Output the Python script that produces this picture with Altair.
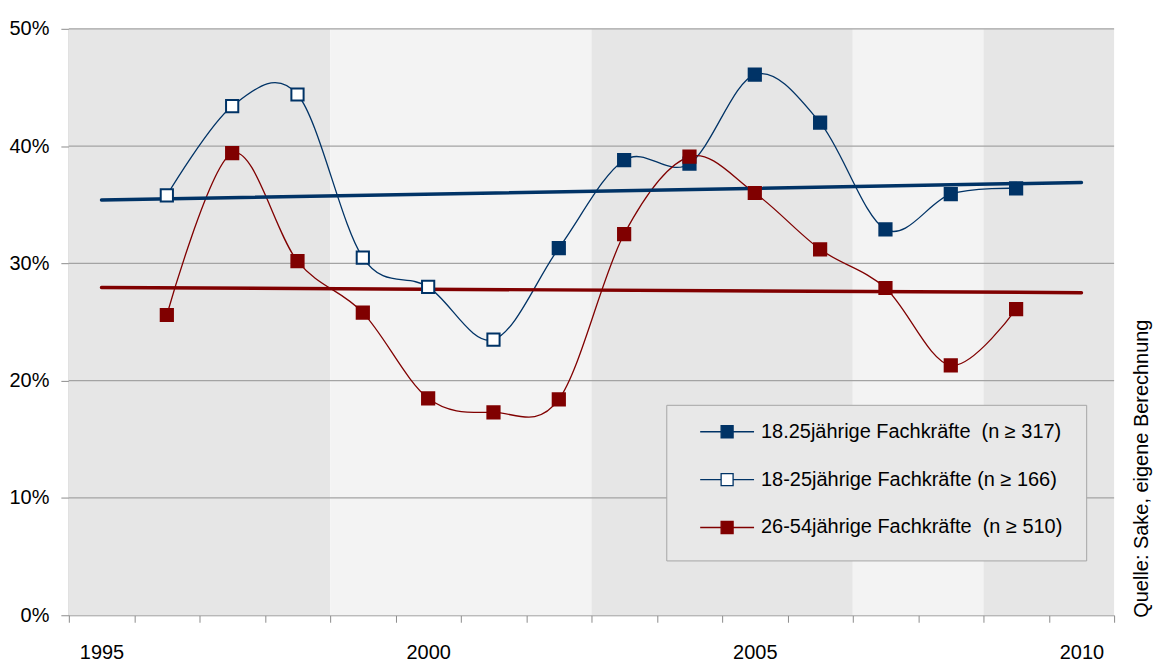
import altair as alt
import pandas as pd

# ---- data ----
years_open = [1996, 1997, 1998, 1999, 2000, 2001]
vals_open = [35.8, 43.4, 44.4, 30.5, 28.0, 23.5]          # 18-25jährige (n >= 166)

years_filled = [2002, 2003, 2004, 2005, 2006, 2007, 2008, 2009]
vals_filled = [31.3, 38.8, 38.5, 46.1, 42.0, 32.9, 35.9, 36.4]  # 18.25jährige (n >= 317)

years_red = [1996, 1997, 1998, 1999, 2000, 2001, 2002, 2003, 2004, 2005, 2006, 2007, 2008, 2009]
vals_red = [25.6, 39.4, 30.2, 25.8, 18.5, 17.3, 18.4, 32.5, 39.1, 36.0, 31.2, 27.9, 21.3, 26.1]

trend_years = [1995, 2010]
trend_navy = [35.4, 36.9]
trend_red = [27.95, 27.5]

band_start = [1994.5, 1998.5, 2002.5, 2006.5, 2008.5]
band_end = [1998.5, 2002.5, 2006.5, 2008.5, 2010.5]
band_shade = ["dark", "light", "dark", "light", "dark"]

grid_values = [0.1, 0.2, 0.3, 0.4, 0.5]
y_ticks = [0, 0.1, 0.2, 0.3, 0.4, 0.5]
x_ticks = [1994.5, 1995.5, 1996.5, 1997.5, 1998.5, 1999.5, 2000.5, 2001.5, 2002.5,
           2003.5, 2004.5, 2005.5, 2006.5, 2007.5, 2008.5, 2009.5, 2010.5]
x_labels = [1995, 2000, 2005, 2010]

series_names = [
    "18.25jährige Fachkräfte\u00a0 (n ≥ 317)",
    "18-25jährige Fachkräfte (n ≥ 166)",
    "26-54jährige Fachkräfte\u00a0 (n ≥ 510)",
]
source_text = "Quelle: Sake, eigene Berechnung"

NAVY = "#003366"
RED = "#800000"
FONT = "Liberation Sans"
FS = 20

W, H = 1048, 588

# ---- tables ----
navy_line = pd.DataFrame({
    "year": years_open + years_filled,
    "v": [v / 100 for v in vals_open + vals_filled],
})
red_line = pd.DataFrame({"year": years_red, "v": [v / 100 for v in vals_red]})
points = pd.concat([
    pd.DataFrame({"year": years_filled, "v": [v / 100 for v in vals_filled], "series": series_names[0]}),
    pd.DataFrame({"year": years_open, "v": [v / 100 for v in vals_open], "series": series_names[1]}),
    pd.DataFrame({"year": years_red, "v": [v / 100 for v in vals_red], "series": series_names[2]}),
])
trend_n = pd.DataFrame({"year": trend_years, "v": [v / 100 for v in trend_navy]})
trend_r = pd.DataFrame({"year": trend_years, "v": [v / 100 for v in trend_red]})
bands = pd.DataFrame({"x0": band_start, "x1": band_end, "shade": band_shade})
grid = pd.DataFrame({"g": grid_values})
labels_df = pd.DataFrame({"year": x_labels})

xscale = alt.Scale(domain=[1994.5, 2010.5], nice=False, zero=False)
yscale = alt.Scale(domain=[0, 0.5], nice=False)

x_tick_axis = alt.Axis(
    orient="bottom", values=x_ticks, title=None, grid=False, labels=False,
    domainColor="#8c8c8c", tickColor="#8c8c8c", tickSize=7, domainWidth=1.2,
)
x_label_axis = alt.Axis(
    orient="bottom", values=x_labels, title=None, grid=False, ticks=False, tickSize=0,
    domain=False, format="d", labelFont=FONT, labelFontSize=FS, labelColor="#000",
    labelPadding=27, labelOverlap=False, labelFlush=False,
)
y_axis = alt.Axis(
    values=y_ticks, title=None, grid=False, format=".0%",
    domainColor="#8c8c8c", tickColor="#8c8c8c", tickSize=8, domainWidth=1.2,
    labelFont=FONT, labelFontSize=FS, labelColor="#000", labelPadding=12,
)

band_layer = alt.Chart(bands).mark_rect().encode(
    x=alt.X("x0:Q", scale=xscale, axis=x_tick_axis),
    x2="x1:Q",
    y=alt.value(0), y2=alt.value(H),
    color=alt.Color("shade:N", scale=alt.Scale(domain=["dark", "light"], range=["#e6e6e6", "#f3f3f3"]), legend=None),
)

label_layer = alt.Chart(labels_df).mark_point(opacity=0).encode(
    x=alt.X("year:Q", scale=xscale, axis=x_label_axis),
    y=alt.value(H),
)

grid_layer = alt.Chart(grid).mark_rule(color="#a3a3a3", strokeWidth=1.2).encode(
    y=alt.Y("g:Q", scale=yscale, axis=y_axis),
)

navy_layer = alt.Chart(navy_line).mark_line(color=NAVY, strokeWidth=1.3, interpolate="cardinal").encode(
    x=alt.X("year:Q", scale=xscale, axis=None), y=alt.Y("v:Q", scale=yscale),
)
red_layer = alt.Chart(red_line).mark_line(color=RED, strokeWidth=1.3, interpolate="cardinal").encode(
    x=alt.X("year:Q", scale=xscale, axis=None), y=alt.Y("v:Q", scale=yscale),
)
trend_n_layer = alt.Chart(trend_n).mark_line(color=NAVY, strokeWidth=3.5, strokeCap="round").encode(
    x=alt.X("year:Q", scale=xscale, axis=None), y=alt.Y("v:Q", scale=yscale),
)
trend_r_layer = alt.Chart(trend_r).mark_line(color=RED, strokeWidth=3.5, strokeCap="round").encode(
    x=alt.X("year:Q", scale=xscale, axis=None), y=alt.Y("v:Q", scale=yscale),
)

# legend symbol: line with a square marker; the lone move-to points only widen the entry box
sym_path = "M0.35,0H1.4M2,0H3.05M1.4,-0.3H2V0.3H1.4ZM1.7,-1M1.7,1.2M19.25,0"
legend = alt.Legend(
    title=None, orient="none", legendX=599, legendY=377,
    fillColor="#e8e8e8", strokeColor="#a6a6a6", padding=6, rowPadding=-2.5,
    symbolType=sym_path, symbolSize=1600, symbolStrokeWidth=1.3,
    labelFont=FONT, labelFontSize=FS, labelColor="#000", labelOffset=47, labelLimit=0,
)
point_layer = alt.Chart(points).mark_point(shape="square", size=150, filled=False, strokeWidth=2, opacity=1).encode(
    x=alt.X("year:Q", scale=xscale, axis=None), y=alt.Y("v:Q", scale=yscale),
    stroke=alt.Stroke("series:N", scale=alt.Scale(domain=series_names, range=[NAVY, NAVY, RED]), legend=legend),
    fill=alt.Fill("series:N", scale=alt.Scale(domain=series_names, range=[NAVY, "#ffffff", RED]), legend=legend),
)

src_layer = alt.Chart(pd.DataFrame({"s": [source_text]})).mark_text(
    angle=270, font=FONT, fontSize=FS, color="#000", align="center", baseline="middle"
).encode(text="s:N", x=alt.value(W + 28), y=alt.value(441))

chart = alt.layer(
    band_layer, label_layer, grid_layer, navy_layer, red_layer,
    trend_n_layer, trend_r_layer, point_layer, src_layer
).resolve_axis(x="independent").properties(
    width=W, height=H,
    autosize=alt.AutoSizeParams(type="none"),
    padding={"left": 61, "top": 20, "right": 40, "bottom": 46},
).configure_view(stroke=None)

chart.save("out.html", embed_options={"renderer": "svg", "actions": False})
